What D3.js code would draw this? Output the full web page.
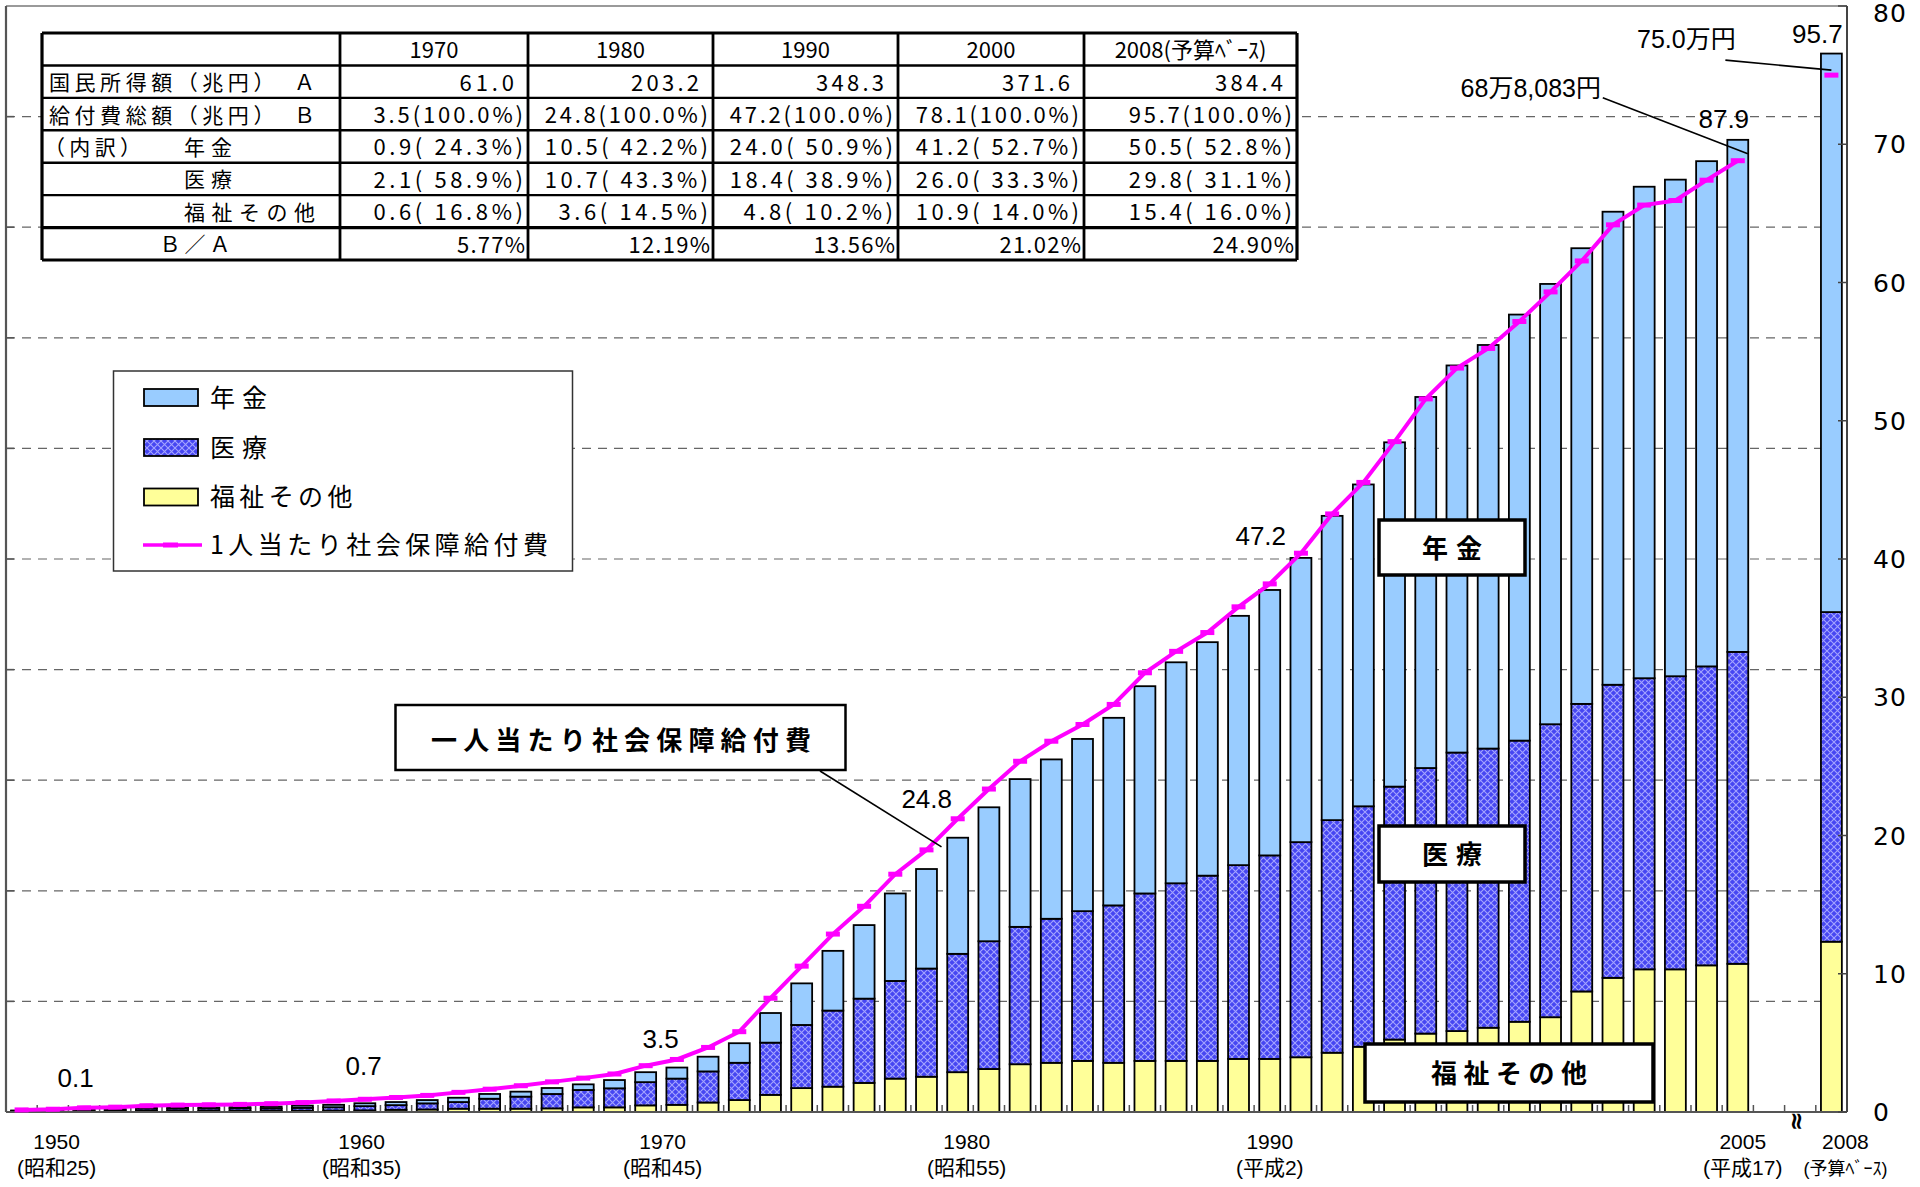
<!DOCTYPE html>
<html><head><meta charset="utf-8">
<script src="https://cdn.jsdelivr.net/npm/d3@7"></script>
<style>
html,body{margin:0;padding:0;background:#fff;}
svg{display:block;}
</style></head>
<body>
<svg id="chart" width="1920" height="1187"></svg>
<script>
// ---------------- DATA ----------------
const categories = ["1950","1951","1952","1953","1954","1955","1956","1957","1958","1959",
  "1960","1961","1962","1963","1964","1965","1966","1967","1968","1969",
  "1970","1971","1972","1973","1974","1975","1976","1977","1978","1979",
  "1980","1981","1982","1983","1984","1985","1986","1987","1988","1989",
  "1990","1991","1992","1993","1994","1995","1996","1997","1998","1999",
  "2000","2001","2002","2003","2004","2005","2008"];
const gapSlots = ["2006","2007"];   // empty slots on the axis before 2008

// 福祉その他 (兆円)
const welfare = [0.05,0.06,0.08,0.09,0.12,0.12,0.12,0.12,0.10,0.12,
  0.13,0.15,0.20,0.23,0.30,0.30,0.30,0.33,0.42,0.42,
  0.6,0.65,0.86,1.08,1.55,2.16,2.29,2.63,3.02,3.19,
  3.6,3.89,4.32,4.45,4.62,4.45,4.62,4.62,4.62,4.8,
  4.8,4.95,5.36,5.9,6.55,7.09,7.32,7.62,8.16,8.57,
  10.9,12.13,12.9,12.9,13.26,13.4,15.4];
// 医療 (兆円)
const medical = [0.06,0.08,0.11,0.13,0.20,0.20,0.21,0.22,0.22,0.26,
  0.30,0.38,0.42,0.55,0.60,0.90,1.09,1.30,1.57,1.72,
  2.1,2.37,2.81,3.37,4.72,5.71,6.88,7.62,8.83,9.78,
  10.7,11.55,12.42,13.02,13.54,14.23,15.14,16.06,16.75,17.52,
  18.4,19.45,21.03,21.74,22.87,24.01,25.18,25.24,25.42,26.49,
  26.0,26.5,26.32,26.5,27.03,28.2,29.8];
// 年金 (兆円)
const pension = [0.02,0.02,0.03,0.04,0.06,0.07,0.07,0.10,0.17,0.20,
  0.22,0.26,0.28,0.30,0.39,0.43,0.45,0.54,0.51,0.75,
  0.9,1.0,1.33,1.77,2.68,3.76,5.4,6.65,7.91,9.0,
  10.5,12.11,13.36,14.41,15.57,16.96,18.74,19.98,21.11,22.54,
  24.0,25.7,27.51,29.1,31.13,33.55,35.0,36.49,38.52,39.81,
  41.2,42.77,44.44,44.9,45.68,46.3,50.5];
// 1人当たり社会保障給付費 (万円)
const perCapita = [0.15,0.2,0.3,0.35,0.45,0.5,0.52,0.55,0.6,0.68,
  0.8,0.92,1.05,1.2,1.42,1.65,1.9,2.18,2.45,2.75,
  3.35,3.8,4.67,5.81,8.23,10.55,12.87,14.88,17.2,18.96,
  21.21,23.36,25.37,26.82,28.03,29.48,31.77,33.32,34.68,36.54,
  38.2,40.42,43.26,45.54,48.49,51.58,53.81,55.23,57.18,59.32,
  61.56,64.17,65.6,65.93,67.4,68.81,75.0];

const seriesKeys = ["welfare","medical","pension"];
const seriesNames = {pension:"年金", medical:"医療", welfare:"福祉その他"};
const lineName = "1人当たり社会保障給付費";

const barGridTicks = [10,20,30,40,50,60,70,80,90];
const rightTicks = [0,10,20,30,40,50,60,70,80];

const xTickLabels = [
  {cat:"1950", year:"1950", era:"(昭和25)"},
  {cat:"1960", year:"1960", era:"(昭和35)"},
  {cat:"1970", year:"1970", era:"(昭和45)"},
  {cat:"1980", year:"1980", era:"(昭和55)"},
  {cat:"1990", year:"1990", era:"(平成2)"},
  {cat:"2005", year:"2005", era:"(平成17)"},
  {cat:"2008", year:"2008", era:"(予算ﾍﾞｰｽ)"}
];
const totalLabels = [
  {cat:"1950", text:"0.1"}, {cat:"1960", text:"0.7"}, {cat:"1970", text:"3.5"},
  {cat:"1980", text:"24.8"}, {cat:"1990", text:"47.2"}, {cat:"2005", text:"87.9"},
  {cat:"2008", text:"95.7"}
];
const lineLabels = [
  {cat:"2005", text:"68万8,083円"},
  {cat:"2008", text:"75.0万円"}
];

const tableHeader = ["", "1970", "1980", "1990", "2000", "2008(予算ﾍﾞｰｽ)"];
const tableRowLabels = ["国民所得額（兆円）　Ａ", "給付費総額（兆円）　Ｂ", "（内訳）", "医療", "福祉その他", "Ｂ／Ａ"];
const tableSubLabel = "年金";
const tableIncome = ["61.0", "203.2", "348.3", "371.6", "384.4"];
const tableTotal = ["3.5(100.0%)", "24.8(100.0%)", "47.2(100.0%)", "78.1(100.0%)", "95.7(100.0%)"];
const tablePension = ["0.9( 24.3%)", "10.5( 42.2%)", "24.0( 50.9%)", "41.2( 52.7%)", "50.5( 52.8%)"];
const tableMedical = ["2.1( 58.9%)", "10.7( 43.3%)", "18.4( 38.9%)", "26.0( 33.3%)", "29.8( 31.1%)"];
const tableWelfare = ["0.6( 16.8%)", "3.6( 14.5%)", "4.8( 10.2%)", "10.9( 14.0%)", "15.4( 16.0%)"];
const tableRatio = ["5.77%", "12.19%", "13.56%", "21.02%", "24.90%"];

const calloutTitle = "一人当たり社会保障給付費";

// ---------------- LAYOUT / STYLE ----------------
const plot = {left:6, right:1847, top:6, bottom:1112};
const colors = {pension:"#99CCFF", welfare:"#FFFF99", line:"#FF00FF"};
const JP = "'Noto Sans CJK JP','Noto Sans',sans-serif";
const NUM = "'Liberation Sans','Noto Sans CJK JP',Arial,sans-serif";

const svg = d3.select("#chart");
svg.append("rect").attr("width",1920).attr("height",1187).attr("fill","#fff");

const defs = svg.append("defs");
const pat = defs.append("pattern").attr("id","medPat").attr("patternUnits","userSpaceOnUse")
  .attr("width",7).attr("height",7);
pat.append("rect").attr("width",7).attr("height",7).attr("fill","#4646F2");
pat.append("path").attr("d","M0,0 L7,7 M7,0 L0,7").attr("stroke","#A4A4FF").attr("stroke-width",1.1);
const fills = {pension:colors.pension, medical:"url(#medPat)", welfare:colors.welfare};

const slots = categories.slice(0,56).concat(gapSlots, categories.slice(56));
const x = d3.scaleBand().domain(slots).range([plot.left, plot.right]).paddingInner(0.33).paddingOuter(0.165);
const xc = c => x(c) + x.bandwidth()/2;
const yBar = d3.scaleLinear().domain([0,100]).range([plot.bottom, plot.top]);
const yR = d3.scaleLinear().domain([0,80]).range([plot.bottom, plot.top]);

// gridlines
svg.append("g").selectAll("line").data(barGridTicks).join("line")
  .attr("x1",plot.left).attr("x2",plot.right)
  .attr("y1",d=>yBar(d)).attr("y2",d=>yBar(d))
  .attr("stroke","#666").attr("stroke-width",1.2).attr("stroke-dasharray","9,7");

// frame top
svg.append("line").attr("x1",plot.left).attr("x2",plot.right).attr("y1",plot.top).attr("y2",plot.top)
  .attr("stroke","#9a9a9a").attr("stroke-width",2);

// bars
const rows = categories.map((c,i)=>({cat:c, welfare:welfare[i], medical:medical[i], pension:pension[i]}));
const stacked = d3.stack().keys(seriesKeys)(rows);
svg.append("g").selectAll("g").data(stacked).join("g")
  .attr("fill", s => fills[s.key])
  .selectAll("rect").data(s=>s).join("rect")
  .attr("x", d=>x(d.data.cat)).attr("width", x.bandwidth())
  .attr("y", d=>yBar(d[1])).attr("height", d=>yBar(d[0])-yBar(d[1]))
  .attr("stroke","#000").attr("stroke-width",1.8);

// axes lines
svg.append("line").attr("x1",plot.left).attr("x2",plot.left).attr("y1",plot.top).attr("y2",plot.bottom)
  .attr("stroke","#555").attr("stroke-width",2.2);
svg.append("line").attr("x1",plot.right).attr("x2",plot.right).attr("y1",plot.top).attr("y2",plot.bottom)
  .attr("stroke","#444").attr("stroke-width",2);
svg.append("line").attr("x1",plot.left).attr("x2",plot.right).attr("y1",plot.bottom).attr("y2",plot.bottom)
  .attr("stroke","#555").attr("stroke-width",2.2);

// bottom ticks at band boundaries
const boundaries = slots.slice(1).map(s => x(s) - x.step()*x.paddingInner()/2);
svg.append("g").selectAll("line").data(boundaries).join("line")
  .attr("x1",d=>d).attr("x2",d=>d).attr("y1",plot.bottom).attr("y2",plot.bottom-7)
  .attr("stroke","#555").attr("stroke-width",1.5);
// left ticks
svg.append("g").selectAll("line").data(barGridTicks).join("line")
  .attr("x1",plot.left).attr("x2",plot.left+8).attr("y1",d=>yBar(d)).attr("y2",d=>yBar(d))
  .attr("stroke","#555").attr("stroke-width",1.5);
// right axis ticks + labels
svg.append("g").selectAll("line").data(rightTicks).join("line")
  .attr("x1",plot.right-9).attr("x2",plot.right).attr("y1",d=>yR(d)).attr("y2",d=>yR(d))
  .attr("stroke","#444").attr("stroke-width",1.5);
svg.append("g").selectAll("text").data(rightTicks).join("text")
  .attr("x",plot.right+26).attr("y",d=>Math.max(yR(d), 13)).attr("dy","0.36em")
  .attr("font-family","'DejaVu Sans',sans-serif").attr("font-size",25).attr("letter-spacing",1)
  .attr("fill","#000").text(d=>d);

// axis break symbol
svg.append("text").attr("transform",`translate(${xc(gapSlots[1])-3},${plot.bottom+9}) rotate(90)`)
  .attr("text-anchor","middle").attr("dy","0.35em").attr("font-family","'DejaVu Sans',sans-serif")
  .attr("font-size",24).attr("font-weight","bold").text("≈");

// x labels
const xLabelDx = {"1950":35,"1960":28,"1970":17,"1980":9,"1990":0,"2005":5,"2008":14};
const xl = svg.append("g").attr("font-family",NUM).attr("fill","#000").attr("text-anchor","middle");
xl.selectAll("text.yr").data(xTickLabels).join("text").attr("class","yr")
  .attr("x",d=>xc(d.cat)+xLabelDx[d.cat]).attr("y",1149).attr("font-size",21).text(d=>d.year);
xl.selectAll("text.era").data(xTickLabels).join("text").attr("class","era")
  .attr("x",d=>xc(d.cat)+xLabelDx[d.cat]).attr("y",1175)
  .attr("font-size",d=>d.cat==="2008"?18:21).text(d=>d.era);

// per-capita line (broken across the axis gap)
const pts = categories.map((c,i)=>({cat:c, v:perCapita[i], slot:slots.indexOf(c)}));
const segs = [];
pts.forEach((p,i)=>{ if(i===0 || p.slot-pts[i-1].slot>1) segs.push([]); segs[segs.length-1].push(p); });
const line = d3.line().x(d=>xc(d.cat)).y(d=>yR(d.v));
svg.append("g").selectAll("path").data(segs.filter(s=>s.length>1)).join("path")
  .attr("d",line).attr("fill","none").attr("stroke",colors.line).attr("stroke-width",4);
svg.append("g").selectAll("rect").data(pts).join("rect")
  .attr("x",d=>xc(d.cat)-7).attr("y",d=>yR(d.v)-2.5).attr("width",14).attr("height",5)
  .attr("fill",colors.line);

// total labels
const totals = {}; rows.forEach(r=>totals[r.cat]=r.welfare+r.medical+r.pension);
const totalOff = {"1950":[54,-24],"1960":[30,-30],"1970":[15,-24],"1980":[-31,-30],"1990":[-9,-45],"2005":[-14,-12],"2008":[-14,-11]};
svg.append("g").selectAll("text").data(totalLabels).join("text")
  .attr("x",d=>xc(d.cat)+totalOff[d.cat][0]).attr("y",d=>yBar(totals[d.cat])+totalOff[d.cat][1])
  .attr("text-anchor","middle").attr("font-family",NUM).attr("font-size",26).attr("fill","#000")
  .text(d=>d.text);

// line labels with leaders
const pcOf = c => perCapita[categories.indexOf(c)];
const lineLabOff = {"2005":{tx:-207,ty:-64,lx1:-135,ly1:-63,lx2:10,ly2:-7},
                    "2008":{tx:-145,ty:-27,lx1:-106,ly1:-15,lx2:0,ly2:-5}};
lineLabels.forEach(d=>{
  const ax = xc(d.cat), ay = yR(pcOf(d.cat)), o = lineLabOff[d.cat];
  svg.append("line").attr("x1",ax+o.lx1).attr("y1",ay+o.ly1).attr("x2",ax+o.lx2).attr("y2",ay+o.ly2)
    .attr("stroke","#000").attr("stroke-width",1.6);
  svg.append("text").attr("x",ax+o.tx).attr("y",ay+o.ty).attr("text-anchor","middle")
    .attr("font-family",NUM).attr("font-size",25).attr("fill","#000").text(d.text);
});

// callout box for line
{
  const ax = xc("1979"), ay = yR(pcOf("1979"));
  svg.append("line").attr("x1",820).attr("y1",771).attr("x2",ax+15).attr("y2",ay-3)
    .attr("stroke","#000").attr("stroke-width",1.6);
  svg.append("rect").attr("x",395.5).attr("y",705).attr("width",450).attr("height",65)
    .attr("fill","#fff").attr("stroke","#000").attr("stroke-width",2.5);
  svg.append("text").attr("x",431).attr("y",741).attr("dy","0.35em").attr("font-family",JP)
    .attr("font-weight","bold").attr("font-size",26).attr("textLength",380).attr("lengthAdjust","spacing")
    .text(calloutTitle);
}

// series callout boxes
const seriesBoxes = [
  {key:"pension", x:1379, y:520, w:146, h:55, tl:60},
  {key:"medical", x:1379, y:826, w:146, h:56, tl:60},
  {key:"welfare", x:1365, y:1044, w:288, h:58, tl:156}
];
seriesBoxes.forEach(b=>{
  svg.append("rect").attr("x",b.x).attr("y",b.y).attr("width",b.w).attr("height",b.h)
    .attr("fill","#fff").attr("stroke","#000").attr("stroke-width",3.5);
  svg.append("text").attr("x",b.x+(b.w-b.tl)/2).attr("y",b.y+b.h/2+1).attr("dy","0.35em")
    .attr("font-family",JP).attr("font-weight","bold").attr("font-size",26)
    .attr("textLength",b.tl).attr("lengthAdjust","spacing").text(seriesNames[b.key]);
});

// legend
{
  const g = svg.append("g");
  g.append("rect").attr("x",113.5).attr("y",371).attr("width",459).attr("height",200)
    .attr("fill","#fff").attr("stroke","#333").attr("stroke-width",1.5);
  const items = ["pension","medical","welfare"];
  const ly = [397.5, 447.5, 497];
  items.forEach((k,i)=>{
    g.append("rect").attr("x",144).attr("y",ly[i]-8.5).attr("width",54).attr("height",17)
      .attr("fill",fills[k]).attr("stroke","#000").attr("stroke-width",1.8);
    g.append("text").attr("x",210).attr("y",ly[i]).attr("dy","0.36em").attr("font-family",JP)
      .attr("font-size",25).attr("textLength",seriesNames[k].length*28.5).attr("lengthAdjust","spacing")
      .text(seriesNames[k]);
  });
  g.append("line").attr("x1",143).attr("x2",202).attr("y1",545).attr("y2",545)
    .attr("stroke",colors.line).attr("stroke-width",3.5);
  g.append("rect").attr("x",163).attr("y",542.5).attr("width",15).attr("height",5).attr("fill",colors.line);
  g.append("text").attr("x",210).attr("y",545).attr("dy","0.36em").attr("font-family",JP)
    .attr("font-size",25).attr("textLength",338).attr("lengthAdjust","spacing").text(lineName);
}

// table
{
  const colX = [42, 340, 528, 713, 898, 1084, 1297];
  const rowY = d3.range(8).map(i=>33 + i*32.43);
  const g = svg.append("g");
  g.append("rect").attr("x",colX[0]).attr("y",rowY[0]).attr("width",colX[6]-colX[0]).attr("height",rowY[7]-rowY[0])
    .attr("fill","#fff");
  rowY.forEach((y,i)=>g.append("line").attr("x1",colX[0]).attr("x2",colX[6]).attr("y1",y).attr("y2",y)
    .attr("stroke","#000").attr("stroke-width",(i===0||i===7||i===6)?3.2:2.4));
  colX.forEach((xx,i)=>g.append("line").attr("x1",xx).attr("x2",xx).attr("y1",rowY[0]).attr("y2",rowY[7])
    .attr("stroke","#000").attr("stroke-width",(i===0||i===6)?3.2:2.8));
  const cy = i => (rowY[i]+rowY[i+1])/2 + 1;
  const T = (xx,y,txt,anchor,len,size) => {
    const t = g.append("text").attr("x",xx).attr("y",y).attr("dy","0.36em").attr("text-anchor",anchor||"start")
      .attr("font-family",JP).attr("font-size",size||21).attr("fill","#000").text(txt);
    if(len) t.attr("textLength",len).attr("lengthAdjust","spacing");
    return t;
  };
  tableHeader.forEach((h,j)=>{ if(h) T((colX[j]+colX[j+1])/2, cy(0), h, "middle", null, 22); });
  T(49, cy(1), tableRowLabels[0], "start", 266);
  T(49, cy(2), tableRowLabels[1], "start", 266);
  T(44, cy(3), tableRowLabels[2], "start", 97);
  T(184, cy(3), tableSubLabel, "start", 48);
  T(184, cy(4), tableRowLabels[3], "start", 48);
  T(184, cy(5), tableRowLabels[4], "start", 131);
  T(195, cy(6), tableRowLabels[5], "middle", 71);
  const numRows = [[tableIncome,14],[tableTotal,5],[tablePension,5],[tableMedical,5],[tableWelfare,5],[tableRatio,3]];
  numRows.forEach(([arr,pad],ri)=>{
    arr.forEach((v,j)=>{
      T(colX[j+2]-pad, cy(ri+1), v, "end", v.length*13.6, 22);
    });
  });
}
</script>
</body></html>
